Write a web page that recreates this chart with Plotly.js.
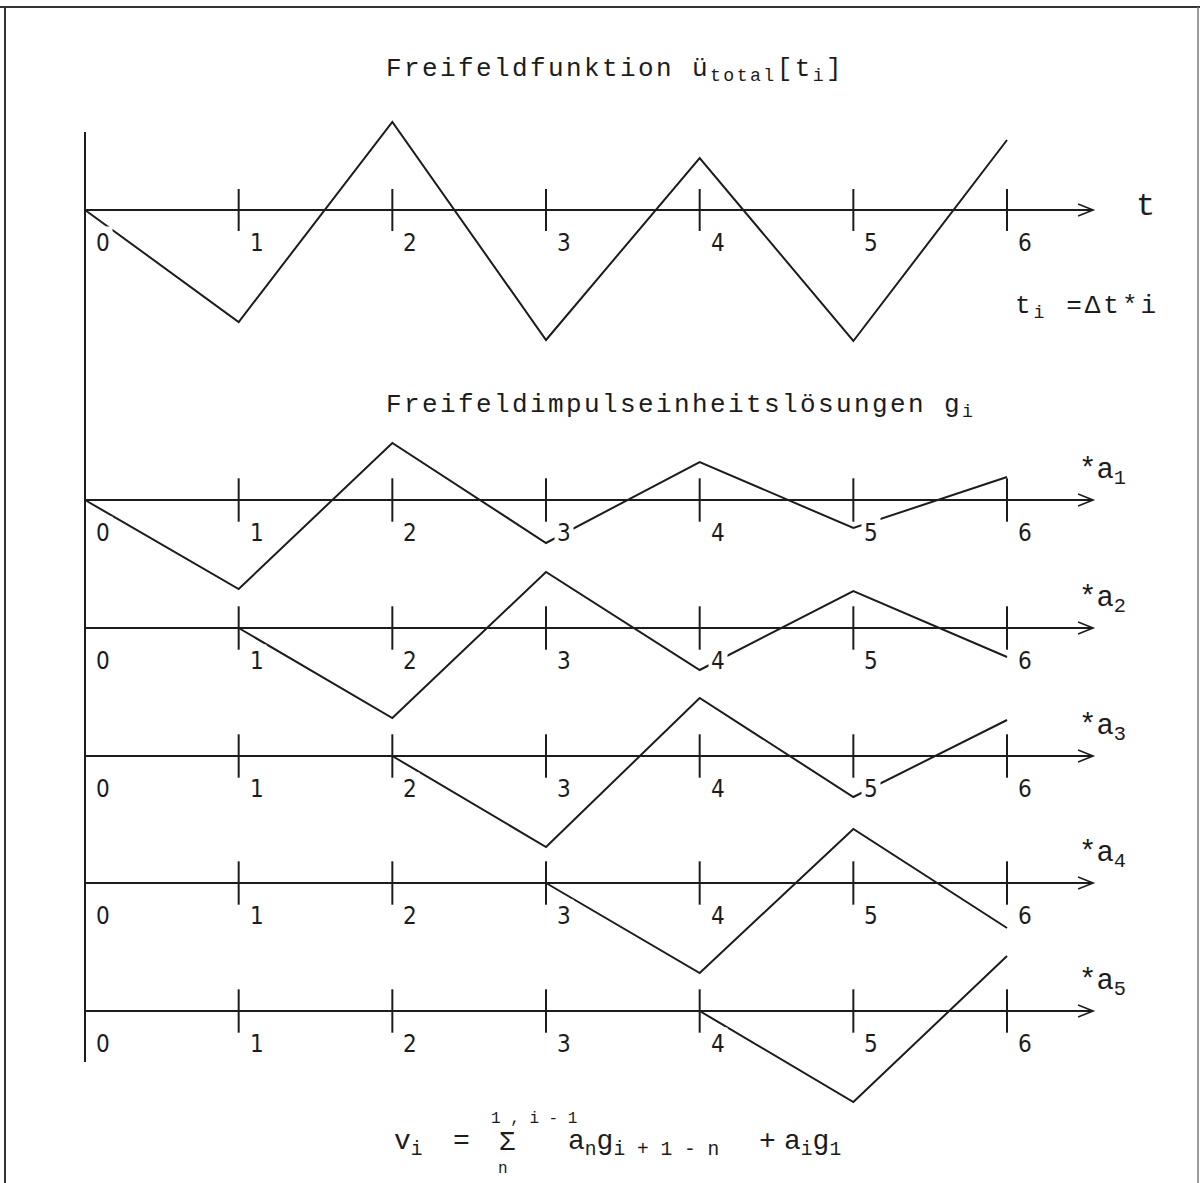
<!DOCTYPE html>
<html>
<head>
<meta charset="utf-8">
<script src="https://cdn.plot.ly/plotly-3.0.1.min.js"></script>
<style>
html, body { margin: 0; padding: 0; background: #fff; }
#chart { width: 1200px; height: 1183px; }
</style>
</head>
<body>
<div id="chart"></div>
<script>
// time steps t_i and tick labels
var tGrid = [0, 1, 2, 3, 4, 5, 6];
var tickVals = [1, 2, 3, 4, 5, 6];
var tickLabels = ['0', '1', '2', '3', '4', '5', '6'];

// Freifeldfunktion u_total[t_i]
var uTotal = [0, -1.12, 0.88, -1.30, 0.52, -1.31, 0.70];

// Impulseinheitsloesungen g_i, each row starts one step later
var gStart = [0, 1, 2, 3, 4];
var gRow1 = [0, -0.89, 0.57, -0.43, 0.38, -0.28, 0.23];
var gRow2 = [0, -0.90, 0.56, -0.42, 0.37, -0.29];
var gRow3 = [0, -0.91, 0.58, -0.41, 0.36];
var gRow4 = [0, -0.90, 0.54, -0.45];
var gRow5 = [0, -0.91, 0.55];
var rowLabels = ['*a<sub>1</sub>', '*a<sub>2</sub>', '*a<sub>3</sub>', '*a<sub>4</sub>', '*a<sub>5</sub>'];

var W = 1200, H = 1183;
var X0 = 85, DX = 153.67, UNIT = 100;
var axisPx = [210, 500, 628, 756, 883, 1011];
var tipT = 6.56;
var INK = '#1c1c1c';
var MONO = "'Liberation Mono', 'DejaVu Sans Mono', monospace";
var DIGIT = "'DejaVu Sans Condensed', 'Liberation Sans Narrow', 'Liberation Sans', sans-serif";

function px(x){ return x / W; }
function py(y){ return 1 - y / H; }
function yName(i){ return i === 0 ? 'y' : 'y' + (i + 1); }
function yKey(i){ return i === 0 ? 'yaxis' : 'yaxis' + (i + 1); }
function spaced(txt, sp){ return '<span style="letter-spacing:' + sp + 'px">' + txt + '</span>'; }

var rows = [gRow1, gRow2, gRow3, gRow4, gRow5];
var traces = [];
var shapes = [];
var annotations = [];

traces.push({
  x: tGrid, y: uTotal, yaxis: 'y', type: 'scatter', mode: 'lines',
  line: {color: INK, width: 2}, hoverinfo: 'skip'
});

rows.forEach(function(vals, r){
  traces.push({
    x: vals.map(function(v, k){ return gStart[r] + k; }),
    y: vals, yaxis: yName(r + 1), type: 'scatter', mode: 'lines',
    line: {color: INK, width: 2}, hoverinfo: 'skip'
  });
});

var layout = {
  width: W, height: H,
  margin: {l: 0, r: 0, t: 0, b: 0, pad: 0},
  paper_bgcolor: '#fff', plot_bgcolor: '#fff',
  showlegend: false,
  xaxis: {range: [-X0 / DX, (W - X0) / DX], domain: [0, 1], visible: false, fixedrange: true}
};

for(var i = 0; i < axisPx.length; i++){
  var ax = {
    range: [-(H - axisPx[i]) / UNIT, axisPx[i] / UNIT],
    domain: [0, 1], visible: false, fixedrange: true
  };
  if(i > 0) ax.overlaying = 'y';
  layout[yKey(i)] = ax;

  // tick marks crossing the time axis
  traces.push({
    x: tickVals, y: tickVals.map(function(){ return 0; }),
    yaxis: yName(i), type: 'scatter', mode: 'markers', hoverinfo: 'skip',
    marker: {symbol: 'line-ns', size: i === 0 ? 30 : 31, line: {width: 2, color: INK}}
  });

  // time axis with open arrow head
  shapes.push({type: 'line', xref: 'x', yref: yName(i), x0: 0, x1: tipT, y0: 0, y1: 0,
    line: {color: INK, width: 2}});
  shapes.push({type: 'path', xref: 'x', yref: yName(i), xsizemode: 'pixel', ysizemode: 'pixel',
    xanchor: tipT, yanchor: 0, path: 'M-15,6 L0,0 L-15,-6', line: {color: INK, width: 1.6}});

  tGrid.forEach(function(t, k){
    annotations.push({
      xref: 'x', yref: yName(i), x: t, y: 0, text: tickLabels[k], showarrow: false,
      xanchor: 'center', yanchor: 'middle', xshift: 18, yshift: -33,
      bgcolor: '#fff', borderpad: 2,
      font: {family: DIGIT, size: 24, color: INK}
    });
  });

  if(i > 0){
    annotations.push({
      xref: 'paper', yref: yName(i), x: px(1077), y: 0, yshift: 28,
      xanchor: 'left', yanchor: 'middle', showarrow: false,
      text: rowLabels[i - 1], font: {family: MONO, size: 29, color: INK}
    });
  }
}

// vertical axis
shapes.push({type: 'line', xref: 'x', yref: 'paper', x0: 0, x1: 0, y0: py(132), y1: py(1062),
  line: {color: INK, width: 2}});

// page frame
shapes.push({type: 'line', xref: 'paper', yref: 'paper', x0: 0, x1: 1, y0: py(7), y1: py(7),
  line: {color: '#333', width: 2}});
shapes.push({type: 'line', xref: 'paper', yref: 'paper', x0: px(5), x1: px(5), y0: py(7), y1: 0,
  line: {color: '#333', width: 2}});
shapes.push({type: 'line', xref: 'paper', yref: 'paper', x0: px(1198), x1: px(1198), y0: py(7), y1: 0,
  line: {color: '#777', width: 1.5}});

function note(x, y, text, size, anchor){
  annotations.push({
    xref: 'paper', yref: 'paper', x: px(x), y: py(y), text: text, showarrow: false,
    xanchor: anchor || 'left', yanchor: 'middle',
    font: {family: MONO, size: size, color: INK}
  });
}

note(384, 70, spaced('Freifeldfunktion ü<sub>total</sub>[t<sub>i</sub>]', 2.4), 26);
note(1145, 207, 't', 32, 'center');
note(1013, 307, spaced('t<sub>i</sub> =Δt*i', 3), 26);
note(384, 406, spaced('Freifeldimpulseinheitslösungen g<sub>i</sub>', 2.4), 26);

// formula
note(392, 1143, 'v<sub>i</sub>', 28);
note(461, 1141, '=', 28, 'center');
note(507, 1143, 'Σ', 27, 'center');
note(489, 1119, '1 , i - 1', 16);
note(503, 1169, 'n', 16, 'center');
note(566, 1143, 'a<sub>n</sub>g<sub>i + 1 - n</sub>', 28);
note(767, 1141, '+', 28, 'center');
note(782, 1143, 'a<sub>i</sub>g<sub>1</sub>', 28);

layout.shapes = shapes;
layout.annotations = annotations;

Plotly.newPlot('chart', traces, layout, {staticPlot: true, displayModeBar: false});
</script>
</body>
</html>
